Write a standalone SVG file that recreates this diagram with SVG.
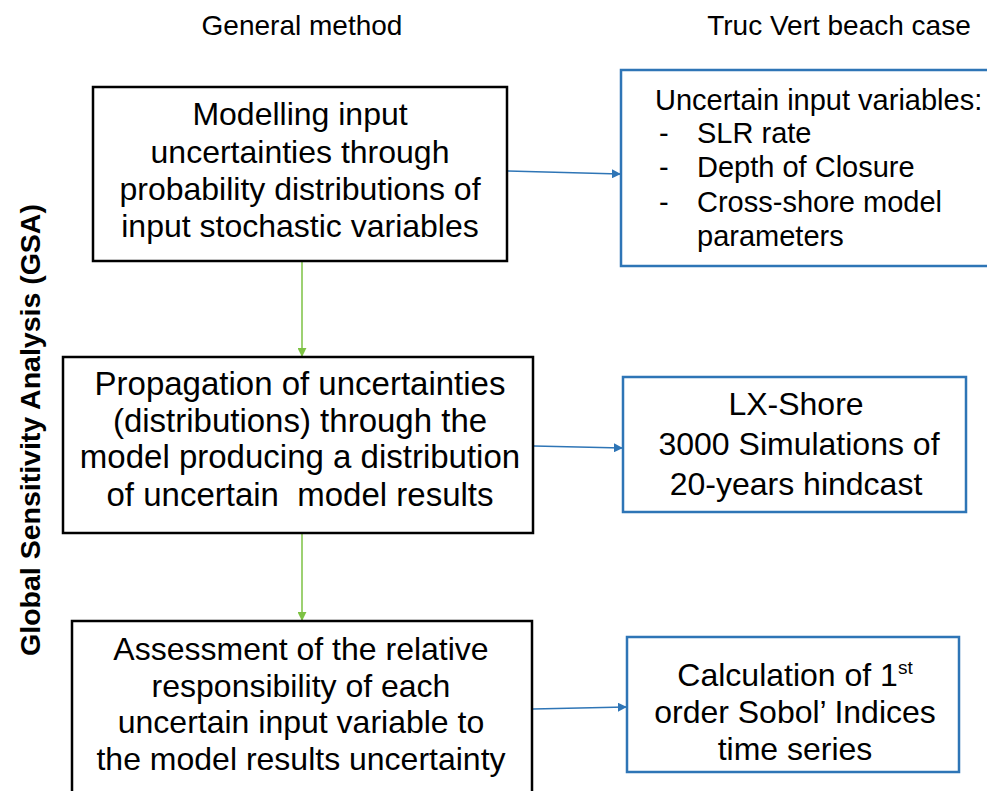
<svg xmlns="http://www.w3.org/2000/svg" width="987" height="791" viewBox="0 0 987 791">
<defs>
<style>
text{font-family:"Liberation Sans",Arial,sans-serif;fill:#000;}
.hdr{font-size:28px;text-anchor:middle;}
.t{font-size:32px;text-anchor:middle;}
.t2{font-size:33px;text-anchor:middle;}
.tr{font-size:29px;}
.side{font-size:28.5px;font-weight:bold;text-anchor:middle;}
.bbox{fill:#fff;stroke:#000;stroke-width:2.5;}
.blbox{fill:#fff;stroke:#2e75b6;stroke-width:2.5;}
.g{stroke:#7dc243;stroke-width:1.5;fill:none;}
.b{stroke:#2e75b6;stroke-width:1.5;fill:none;}
</style>
<marker id="ag" viewBox="0 0 10 10" refX="9" refY="5" markerWidth="9" markerHeight="9" markerUnits="userSpaceOnUse" orient="auto"><path d="M0,0 L10,5 L0,10 z" fill="#7dc243"/></marker>
<marker id="ab" viewBox="0 0 10 10" refX="9" refY="5" markerWidth="9" markerHeight="9" markerUnits="userSpaceOnUse" orient="auto"><path d="M0,0 L10,5 L0,10 z" fill="#2e75b6"/></marker>
</defs>
<rect width="987" height="791" fill="#fff"/>
<g id="headers">
<text class="hdr" x="302" y="35">General method</text>
<text class="hdr" x="839" y="35">Truc Vert beach case</text>
<text class="side" transform="translate(40,430) rotate(-90)">Global Sensitivity Analysis (GSA)</text>
</g>
<g id="connectors">
<line class="g" x1="302" y1="262" x2="302" y2="356" marker-end="url(#ag)"/>
<line class="g" x1="302" y1="534" x2="302" y2="620" marker-end="url(#ag)"/>
<line class="b" x1="508" y1="171" x2="620" y2="174" marker-end="url(#ab)"/>
<line class="b" x1="534" y1="446" x2="622" y2="448" marker-end="url(#ab)"/>
<line class="b" x1="533" y1="709" x2="626" y2="707" marker-end="url(#ab)"/>
</g>
<g id="box1">
<rect class="bbox" x="93" y="87" width="414" height="174"/>
<text class="t" x="300" y="125">Modelling input</text>
<text class="t" x="300" y="163">uncertainties through</text>
<text class="t" x="300" y="200">probability distributions of</text>
<text class="t" x="300" y="237">input stochastic variables</text>
</g>
<g id="box2">
<rect class="bbox" x="63" y="357" width="470" height="176"/>
<text class="t2" x="300" y="395">Propagation of uncertainties</text>
<text class="t2" x="300" y="432">(distributions) through the</text>
<text class="t2" x="300" y="468">model producing a distribution</text>
<text class="t2" x="300" y="506">of uncertain&#160; model results</text>
</g>
<g id="box3">
<rect class="bbox" x="72" y="621" width="460" height="190"/>
<text class="t" x="301" y="660">Assessment of the relative</text>
<text class="t" x="301" y="697">responsibility of each</text>
<text class="t" x="301" y="733">uncertain input variable to</text>
<text class="t" x="301" y="770">the model results uncertainty</text>
</g>
<g id="rbox1">
<rect class="blbox" x="621" y="70" width="380" height="196"/>
<text class="tr" x="655" y="110">Uncertain input variables:</text>
<text class="tr" x="659" y="143">-</text>
<text class="tr" x="697" y="143">SLR rate</text>
<text class="tr" x="659" y="177">-</text>
<text class="tr" x="697" y="177">Depth of Closure</text>
<text class="tr" x="659" y="212">-</text>
<text class="tr" x="697" y="212">Cross-shore model</text>
<text class="tr" x="697" y="246">parameters</text>
</g>
<g id="rbox2">
<rect class="blbox" x="623" y="377" width="343" height="135"/>
<text class="t" x="796" y="415">LX-Shore</text>
<text class="t" x="799" y="455">3000 Simulations of</text>
<text class="t" x="796" y="495">20-years hindcast</text>
</g>
<g id="rbox3">
<rect class="blbox" x="627" y="637" width="332" height="135"/>
<text class="t" x="795" y="686">Calculation of 1<tspan font-size="19" dy="-12">st</tspan></text>
<text class="t" x="795" y="723">order Sobol’ Indices</text>
<text class="t" x="795" y="760">time series</text>
</g>
</svg>
